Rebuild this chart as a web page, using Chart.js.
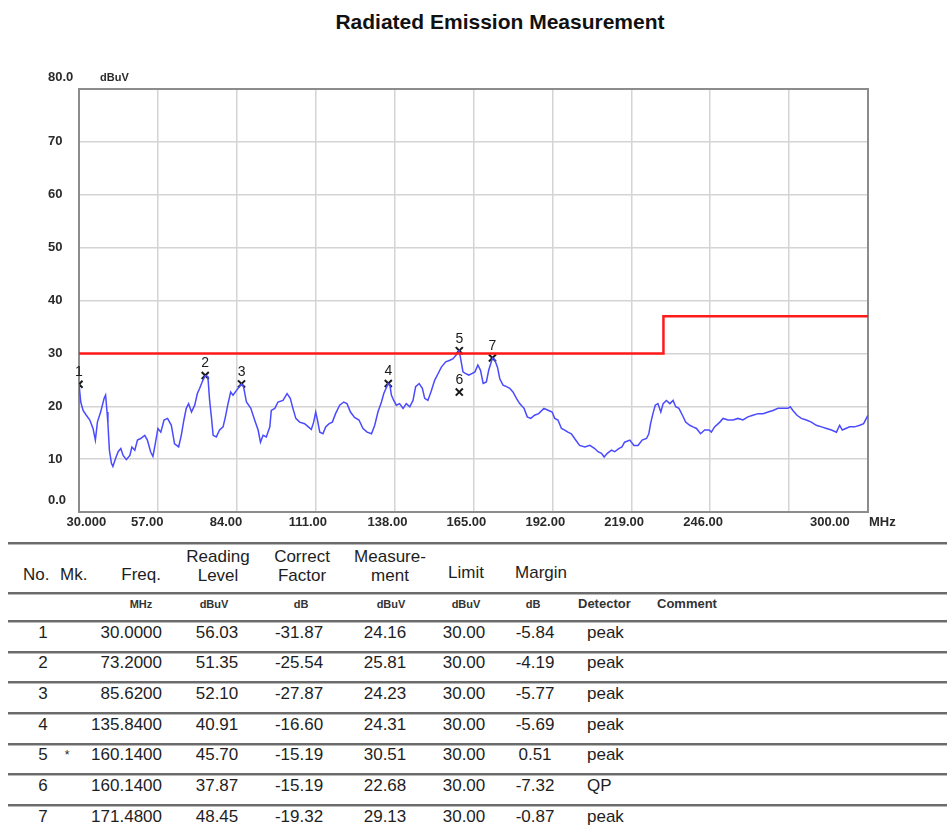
<!DOCTYPE html>
<html>
<head>
<meta charset="utf-8">
<script src="https://cdn.jsdelivr.net/npm/chart.js@4.4.1/dist/chart.umd.min.js"></script>
<style>
  body { margin: 0; background: #fff; font-family: "Liberation Sans", Arial, sans-serif; }
  #wrap { position: relative; width: 947px; height: 829px; overflow: hidden; }
  #title { position: absolute; left: 300px; width: 400px; top: 9px; text-align: center;
           font-weight: bold; font-size: 21px; line-height: 26px; color: #111; }
  canvas { position: absolute; left: 0; top: 0; }
  .ln { position: absolute; left: 8px; right: 0; height: 2px; background: #6b6b6b;
        border-bottom: 1px solid #b8b8b8; }
  .t { position: absolute; white-space: nowrap; color: #1e1e1e; font-size: 17px; line-height: 20px; }
  .u { font-size: 11px; font-weight: bold; color: #333; }
  .u2 { font-size: 13px; font-weight: bold; color: #333; }
  .mk { font-size: 12px; }
</style>
</head>
<body>
<div id="wrap">
  <div id="title">Radiated Emission Measurement</div>
  <canvas id="chart" width="947" height="540"></canvas>
  <div id="tbl"></div>
</div>
<script>
// scan trace (MHz / dBuV)
const traceFreq = [30.0, 30.6, 31.4, 32.5, 33.7, 34.8, 35.6, 36.3, 37.4, 38.6, 39.1, 39.6, 39.9, 40.4, 41.1, 41.6,
  42.5, 43.4, 44.3, 45.1, 46.2, 47.4, 48.1, 49.1, 50.0, 51.1, 52.5, 53.4, 54.5, 55.3, 56.1, 57.0, 58.0, 59.1,
  60.3, 61.6, 62.7, 64.1, 65.0, 65.9, 66.7, 67.5, 68.5, 69.6, 70.5, 71.3, 72.4, 73.2, 74.1, 74.7, 75.3, 75.9,
  77.0, 78.1, 79.3, 80.1, 81.0, 81.9, 82.7, 83.9, 85.6, 86.3, 87.3, 88.8, 90.1, 91.3, 92.1, 93.0, 94.1, 95.3,
  95.8, 97.0, 98.1, 99.8, 101.2, 102.3, 103.2, 104.2, 105.5, 107.2, 108.7, 109.5, 110.3, 111.0, 111.6, 112.4,
  113.5, 114.4, 115.6, 116.7, 117.8, 119.2, 120.6, 121.7, 122.9, 124.3, 125.8, 127.2, 128.6, 130.1, 131.2,
  132.3, 133.5, 134.3, 135.8, 136.4, 136.9, 137.7, 138.6, 139.7, 140.9, 142.0, 143.2, 144.3, 145.2, 146.4,
  147.5, 148.3, 149.4, 150.6, 151.7, 152.9, 154.0, 155.5, 156.9, 158.0, 159.2, 160.1, 160.7, 161.4, 162.2,
  163.4, 165.5, 166.5, 167.4, 168.3, 169.4, 170.2, 171.5, 172.2, 173.2, 174.0, 175.1, 176.3, 177.4, 178.5,
  179.7, 180.8, 182.3, 183.4, 184.6, 185.9, 187.3, 189.1, 190.7, 191.9, 192.8, 193.9, 195.1, 196.2, 197.3,
  198.5, 199.6, 201.3, 203.1, 204.8, 206.5, 207.6, 208.8, 209.7, 210.8, 212.2, 213.3, 214.7, 215.8, 216.7,
  218.5, 219.9, 221.3, 222.7, 224.2, 225.0, 225.6, 226.4, 227.2, 228.1, 229.1, 229.9, 231.0, 232.2, 233.3,
  234.2, 235.3, 236.5, 237.6, 239.0, 240.1, 241.3, 242.7, 244.1, 245.6, 246.4, 247.5, 249.3, 250.4, 252.1,
  253.8, 255.5, 257.2, 258.9, 260.6, 262.4, 264.1, 265.8, 267.5, 269.2, 270.9, 272.6, 273.4, 274.3, 275.7,
  277.2, 278.9, 280.6, 282.3, 284.1, 285.8, 287.5, 289.2, 290.3, 291.2, 292.4, 293.7, 295.4, 297.2, 298.5,
  299.7, 300.0];
const traceLevel = [24.2, 20.8, 19.2, 18.3, 17.4, 15.8, 13.6, 17.0, 18.9, 21.5, 22.1, 18.9, 16.7, 11.7, 9.2, 8.6,
  10.1, 11.4, 12.0, 10.7, 9.9, 10.7, 12.3, 11.7, 13.6, 13.9, 14.5, 13.6, 11.4, 10.5, 12.9, 15.8, 15.1, 17.4,
  17.7, 16.4, 12.9, 12.3, 14.5, 17.4, 19.6, 20.5, 18.9, 20.2, 22.4, 23.4, 24.9, 25.8, 25.6, 21.1, 18.0, 14.5,
  14.2, 15.5, 16.1, 18.0, 20.5, 22.7, 22.1, 23.0, 24.2, 23.7, 20.8, 19.6, 17.4, 15.5, 13.2, 14.5, 14.2, 16.1,
  19.2, 19.6, 20.8, 21.1, 22.4, 21.5, 19.6, 17.7, 17.0, 16.7, 16.0, 15.6, 17.0, 18.9, 17.4, 15.1,
  14.8, 16.1, 16.7, 17.0, 18.6, 20.2, 20.8, 20.5, 18.9, 17.9, 17.4, 15.8, 15.1, 14.8, 16.4,
  18.9, 20.8, 22.4, 24.3, 24.0, 22.1, 21.1, 20.2, 20.5, 19.6, 20.5, 19.9, 21.1, 23.7, 24.3,
  23.4, 21.5, 21.1, 23.0, 24.9, 26.2, 27.4, 28.4, 28.7, 29.0, 29.8, 30.5, 28.7, 26.5, 26.2,
  25.9, 26.5, 27.8, 26.8, 24.3, 24.6, 26.8, 29.1, 28.9, 27.4, 25.2, 24.0, 23.7, 23.4, 22.7,
  21.5, 20.5, 19.6, 18.0, 17.7, 18.3, 18.6, 19.6, 19.2, 18.9, 17.7, 17.4, 15.8, 15.5, 15.1,
  14.8, 13.9, 12.6, 12.3, 12.6, 12.0, 11.4, 11.1, 10.4, 11.1, 11.7, 11.4, 12.0, 12.3, 13.2,
  13.6, 12.6, 12.6, 13.6, 13.9, 14.8, 16.7, 18.6, 20.2, 20.5, 18.9, 20.5, 21.1, 20.5, 21.1,
  19.9, 19.6, 18.3, 17.0, 16.4, 16.1, 15.8, 14.8, 15.5, 15.5, 15.1, 16.1, 17.0, 17.7, 17.4,
  17.4, 17.7, 17.4, 18.0, 18.3, 18.6, 18.6, 18.9, 19.2, 19.6, 19.6, 19.6, 19.9, 19.2, 18.3,
  17.7, 17.4, 17.0, 16.4, 16.1, 15.8, 15.5, 15.1, 16.4, 15.5, 15.8, 16.1, 16.1, 16.4, 16.7,
  18.0, 18.3];

// limit line
const limitFreq = [30, 230, 230, 300];
const limitLevel = [30, 30, 37, 37];

// marker table
const markerNo = [1, 2, 3, 4, 5, 6, 7];
const markerMk = ['', '', '', '', '*', '', ''];
const markerFreq = [30.0000, 73.2000, 85.6200, 135.8400, 160.1400, 160.1400, 171.4800];
const readingLevel = [56.03, 51.35, 52.10, 40.91, 45.70, 37.87, 48.45];
const correctFactor = [-31.87, -25.54, -27.87, -16.60, -15.19, -15.19, -19.32];
const measurement = [24.16, 25.81, 24.23, 24.31, 30.51, 22.68, 29.13];
const limitValue = [30.00, 30.00, 30.00, 30.00, 30.00, 30.00, 30.00];
const margin = [-5.84, -4.19, -5.77, -5.69, 0.51, -7.32, -0.87];
const detector = ['peak', 'peak', 'peak', 'peak', 'peak', 'QP', 'peak'];

// axes
const xTicks = [30, 57, 84, 111, 138, 165, 192, 219, 246, 273, 300];
const xTickLabels = ['30.000', '57.00', '84.00', '111.00', '138.00', '165.00', '192.00', '219.00', '246.00', '', '300.00'];
const yTicks = [0, 10, 20, 30, 40, 50, 60, 70, 80];
const yTickLabels = ['0.0', '10', '20', '30', '40', '50', '60', '70', '80.0'];

const axisFont = 'bold 13px "Liberation Sans", Arial, sans-serif';

const emcPlugin = {
  id: 'emc',
  beforeDatasetsDraw(chart) {
    const { ctx, chartArea: a } = chart;
    ctx.save();
    ctx.strokeStyle = '#8c8c8c';
    ctx.lineWidth = 2;
    ctx.strokeRect(a.left, a.top, a.right - a.left, a.bottom - a.top);
    ctx.restore();
  },
  afterDraw(chart) {
    const { ctx } = chart;
    const xs = chart.scales.x, ys = chart.scales.y;
    ctx.save();
    ctx.fillStyle = '#2a2a2a';
    ctx.font = axisFont;
    ctx.textBaseline = 'middle';
    ctx.textAlign = 'left';
    // y labels
    yTicks.forEach((v, i) => {
      let y = ys.getPixelForValue(v);
      if (i === 0 || i === yTicks.length - 1) y -= 12;
      ctx.fillText(yTickLabels[i], 48, y);
    });
    ctx.font = 'bold 11px "Liberation Sans", Arial, sans-serif';
    ctx.fillText('dBuV', 100, ys.getPixelForValue(80) - 11);
    // x labels
    ctx.font = axisFont;
    const ly = xs.bottom + 10;
    xTicks.forEach((v, i) => {
      const px = xs.getPixelForValue(v);
      let off = -27;
      if (i === 0) off = -12.5;
      if (i === xTicks.length - 1) off = -58;
      if (xTickLabels[i]) ctx.fillText(xTickLabels[i], px + off, ly);
    });
    ctx.fillText('MHz', xs.getPixelForValue(300) + 1, ly);
    // marker numbers
    const meta = chart.getDatasetMeta(2);
    ctx.font = '14px "Liberation Sans", Arial, sans-serif';
    ctx.fillStyle = '#1a1a1a';
    ctx.textAlign = 'center';
    meta.data.forEach((pt, i) => {
      ctx.fillText(String(markerNo[i]), pt.x, pt.y - 12);
    });
    ctx.restore();
  }
};

new Chart(document.getElementById('chart'), {
  data: {
    datasets: [
      {
        type: 'line',
        label: 'Limit',
        data: limitFreq.map((f, i) => ({ x: f, y: limitLevel[i] })),
        borderColor: '#ff1a1a',
        borderWidth: 2.5,
        pointRadius: 0,
        tension: 0
      },
      {
        type: 'line',
        label: 'Trace',
        data: traceFreq.map((f, i) => ({ x: f, y: traceLevel[i] })),
        borderColor: '#4a4aff',
        borderWidth: 1.5,
        pointRadius: 0,
        tension: 0
      },
      {
        type: 'scatter',
        label: 'Markers',
        data: markerFreq.map((f, i) => ({ x: f, y: measurement[i] })),
        pointStyle: 'crossRot',
        pointRadius: 5,
        borderColor: '#1a1a1a',
        borderWidth: 2
      }
    ]
  },
  options: {
    responsive: false,
    animation: false,
    devicePixelRatio: 1,
    layout: { padding: { left: 79, top: 89, right: 79, bottom: 28 } },
    plugins: { legend: { display: false }, tooltip: { enabled: false } },
    scales: {
      x: {
        type: 'linear', min: 30, max: 300,
        afterBuildTicks: s => { s.ticks = xTicks.map(v => ({ value: v })); },
        ticks: { display: false },
        grid: { color: '#d4d4d4', lineWidth: 1.5, drawTicks: false },
        border: { display: false }
      },
      y: {
        type: 'linear', min: 0, max: 80,
        afterBuildTicks: s => { s.ticks = yTicks.map(v => ({ value: v })); },
        ticks: { display: false },
        grid: { color: '#d4d4d4', lineWidth: 1.5, drawTicks: false },
        border: { display: false }
      }
    }
  },
  plugins: [emcPlugin]
});

// table below the plot
const tbl = document.getElementById('tbl');
function hline(y) {
  const d = document.createElement('div');
  d.className = 'ln';
  d.style.top = y + 'px';
  tbl.appendChild(d);
}
function txt(s, x, y, align, cls) {
  const d = document.createElement('div');
  d.className = 't' + (cls ? ' ' + cls : '');
  d.textContent = s;
  d.style.top = (y - 10) + 'px';
  if (align === 'l') { d.style.left = x + 'px'; }
  else if (align === 'r') { d.style.left = (x - 200) + 'px'; d.style.width = '200px'; d.style.textAlign = 'right'; }
  else { d.style.left = (x - 100) + 'px'; d.style.width = '200px'; d.style.textAlign = 'center'; }
  tbl.appendChild(d);
}

hline(542); hline(592); hline(620);
txt('No.', 23, 575, 'l'); txt('Mk.', 60, 575, 'l'); txt('Freq.', 161, 575, 'r');
txt('Reading', 218, 557); txt('Level', 218, 576);
txt('Correct', 302, 557); txt('Factor', 302, 576);
txt('Measure-', 390, 557); txt('ment', 390, 576);
txt('Limit', 466, 573); txt('Margin', 541, 573);

txt('MHz', 141, 604, 'c', 'u'); txt('dBuV', 214, 604, 'c', 'u'); txt('dB', 301, 604, 'c', 'u');
txt('dBuV', 391, 604, 'c', 'u'); txt('dBuV', 466, 604, 'c', 'u'); txt('dB', 533, 604, 'c', 'u');
txt('Detector', 578, 604, 'l', 'u2'); txt('Comment', 657, 604, 'l', 'u2');

const rowH = 30.67;
markerNo.forEach((n, i) => {
  const top = 620 + i * rowH;
  const cy = top + 12.5;
  txt(String(n), 43, cy);
  if (markerMk[i]) txt(markerMk[i], 67, cy, 'c', 'mk');
  txt(markerFreq[i].toFixed(4), 162, cy, 'r');
  txt(readingLevel[i].toFixed(2), 217, cy);
  txt(correctFactor[i].toFixed(2), 299, cy);
  txt(measurement[i].toFixed(2), 385, cy);
  txt(limitValue[i].toFixed(2), 464, cy);
  txt(margin[i].toFixed(2), 535, cy);
  txt(detector[i], 587, cy, 'l');
  if (i < markerNo.length - 1) hline(Math.round(top + rowH));
});
</script>
</body>
</html>
